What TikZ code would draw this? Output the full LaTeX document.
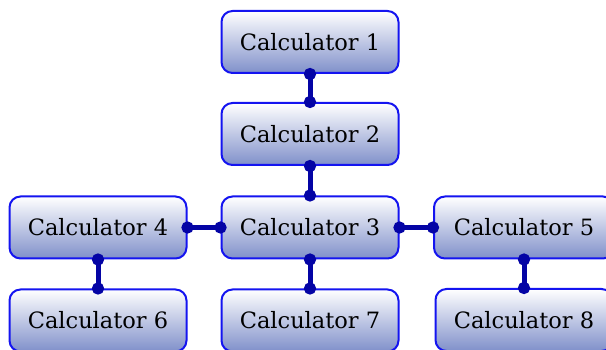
\documentclass[tikz,border=0pt]{standalone}
\usepackage{fontspec}
\setmainfont{DejaVu Serif}
\usepackage{xcolor}
\usetikzlibrary{arrows.meta}

\definecolor{calcedge}{RGB}{20,20,240}
\definecolor{calcbot}{RGB}{128,144,202}
\definecolor{linkblue}{RGB}{4,4,165}

\begin{document}
\begin{tikzpicture}[x=1pt,y=-1pt,
  calcbox/.style={draw=calcedge,line width=2pt,rounded corners=11pt,
    top color=white,bottom color=calcbot,minimum width=177pt,minimum height=62pt,
    inner sep=0pt,font=\fontsize{22.5}{27}\selectfont},
  link/.style={draw=linkblue,line width=5pt,{Circle[length=12pt]}-{Circle[length=12pt]},
    shorten <=-6pt,shorten >=-6pt}]
  \useasboundingbox (0,0) rectangle (606,350);
  % calculators
  \node[calcbox] (c1) at (310,42) {Calculator 1};
  \node[calcbox] (c2) at (310,134) {Calculator 2};
  \node[calcbox] (c3) at (310,227.5) {Calculator 3};
  \node[calcbox] (c4) at (98,227.5) {Calculator 4};
  \node[calcbox,minimum width=180pt] (c5) at (524,227.5) {Calculator 5};
  \node[calcbox] (c6) at (98,320.5) {Calculator 6};
  \node[calcbox] (c7) at (310,320.5) {Calculator 7};
  \node[calcbox] (c8) at (524,320) {Calculator 8};
  % links
  \draw[link] (c1.south) -- (c2.north);
  \draw[link] (c2.south) -- (c3.north);
  \draw[link] (c4.east) -- (c3.west);
  \draw[link] (c3.east) -- (c5.west);
  \draw[link] (c3.south) -- (c7.north);
  \draw[link] (c4.south) -- (c6.north);
  \draw[link] (c5.south) -- (c8.north);
\end{tikzpicture}
\end{document}
